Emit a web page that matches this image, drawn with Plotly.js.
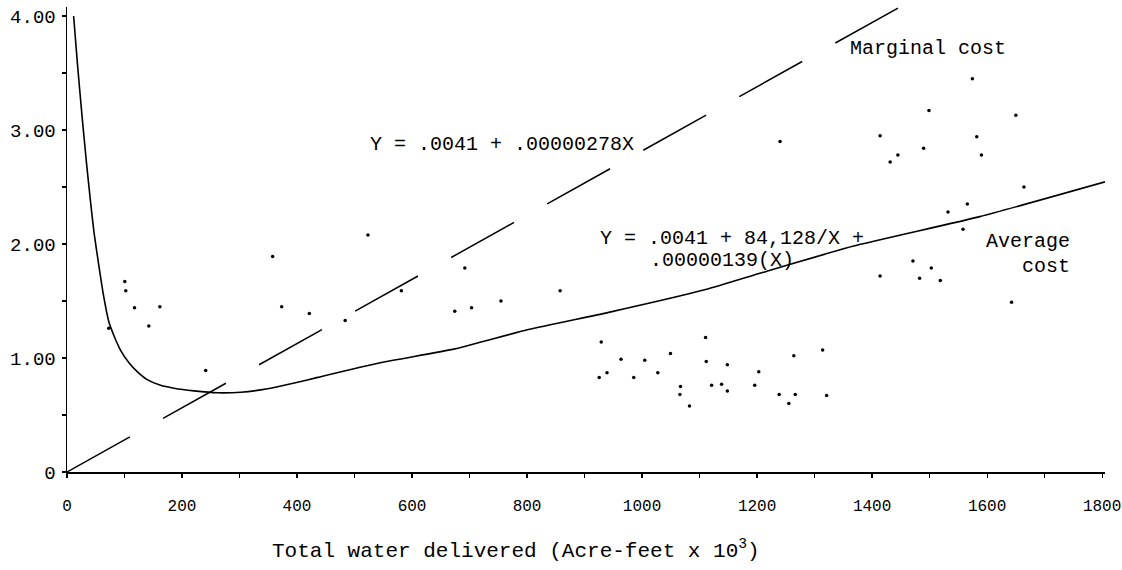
<!DOCTYPE html>
<html><head><meta charset="utf-8">
<script src="https://cdn.plot.ly/plotly-3.0.1.min.js"></script>
<style>html,body{margin:0;padding:0;background:#fff}</style>
</head><body><div id="chart" style="width:1122px;height:570px"></div>
<script>
const obsX = [72.6,100.5,102.2,117.4,161.5,142.3,241.2,357.6,373.3,421.4,483.7,523.3,581.4,691.8,674.3,703.5,754.6,857.5,
  929,925.5,939,963.4,985.5,1004.7,1027.4,1049.4,1066.8,1065.8,1082.5,1110.4,1111.6,1120.9,1138.3,1148.3,1148.3,1195.9,
  1202.9,1238.4,1255.2,1263.9,1266.4,1314,1320.9,1240,1574.4,1498.9,1650,1413.9,1582,1489.6,1444.8,1431.4,1590.1,1664,
  1565.6,1532,1558.1,1471,1413.9,1502.9,1482.6,1518.6,1642.5];
const obsY = [1.26,1.67,1.59,1.44,1.45,1.28,0.89,1.89,1.45,1.39,1.33,2.08,1.59,1.79,1.41,1.44,1.50,1.59,
  1.14,0.83,0.87,0.99,0.83,0.98,0.87,1.04,0.75,0.68,0.58,1.18,0.97,0.76,0.77,0.94,0.71,0.76,
  0.88,0.68,0.60,1.02,0.68,1.07,0.67,2.90,3.45,3.17,3.13,2.95,2.94,2.84,2.78,2.72,2.78,2.50,
  2.35,2.28,2.13,1.85,1.72,1.79,1.70,1.68,1.49];
// Average cost curve
const avgX = [11.5,18.5,26.2,33.7,40.7,47,55.1,63.8,72.6,81.3,93,107.4,122.1,139.5,162.7,185.9,220.8,261.6,302.3,348.9,
  395.3,436.1,546.5,674.3,802.4,941.9,1110.4,1209.3,1366.3,1587.3,1805];
const avgY = [4.00,3.56,3.12,2.72,2.38,2.10,1.82,1.54,1.32,1.20,1.07,0.96,0.88,0.81,0.76,0.735,0.712,0.695,0.70,0.73,
  0.78,0.83,0.96,1.08,1.25,1.40,1.60,1.75,1.98,2.24,2.545];
// Marginal cost line
const mcX = [0, 1445];
const mcY = [0, 4.07];
// Tick labels
const xTickVals = [0,200,400,600,800,1000,1200,1400,1600,1800];
const xTickText = ['0','200','400','600','800','1000','1200','1400','1600','1800'];
const yTickVals = [0,1,2,3,4];
const yTickText = ['0','1.00','2.00','3.00','4.00'];

const mono = 'Liberation Mono, Courier New, monospace';

const traces = [
  {x: mcX, y: mcY, mode: 'lines', line: {color: '#000', width: 1.5, dash: '72px,38px'}, hoverinfo: 'skip'},
  {x: avgX, y: avgY, mode: 'lines', line: {color: '#000', width: 1.6, shape: 'spline', smoothing: 0.5}, hoverinfo: 'skip'},
  {x: obsX, y: obsY, mode: 'markers', marker: {color: '#000', size: 3.5}, hoverinfo: 'skip'}
];

const ann = (text, x, y, xanchor, extra) => Object.assign({text, x, y, xref: 'x', yref: 'y', xanchor, yanchor: 'middle',
  showarrow: false, borderpad: 0, font: {family: mono, size: 20, color: '#000'}}, extra || {});

const layout = {
  width: 1122, height: 570,
  margin: {l: 67, r: 17, t: 7, b: 98},
  paper_bgcolor: '#fff', plot_bgcolor: '#fff',
  showlegend: false,
  xaxis: {range: [0, 1805], showgrid: false, zeroline: false, showline: true, linecolor: '#000', linewidth: 1.5,
    tickmode: 'array', tickvals: xTickVals, ticktext: xTickText, ticks: 'outside', ticklen: 4, tickwidth: 1.2, tickcolor: '#000',
    minor: {dtick: 100, ticks: 'outside', ticklen: 4, tickwidth: 1.2, tickcolor: '#000'},
    ticklabelstandoff: 14,
    tickfont: {family: mono, size: 16, color: '#000'}},
  yaxis: {range: [0, 4.079], showgrid: false, zeroline: false, showline: true, linecolor: '#000', linewidth: 1.5,
    tickmode: 'array', tickvals: yTickVals, ticktext: yTickText, ticks: 'outside', ticklen: 4, tickwidth: 1.2, tickcolor: '#000',
    minor: {dtick: 0.5, ticks: 'outside', ticklen: 4, tickwidth: 1.2, tickcolor: '#000'},
    ticklabelstandoff: 2,
    tickfont: {family: mono, size: 19, color: '#000'}},
  annotations: [
    ann('Y = .0041 + .00000278X', 525, 2.873, 'left'),
    ann('Marginal cost', 1360, 3.715, 'left'),
    ann('Y = .0041 + 84,128/X +', 925, 2.045, 'left', {height: 21}),
    ann('.00000139(X)', 1012, 1.855, 'left', {height: 21}),
    ann('Average', 1745, 2.02, 'right'),
    ann('cost', 1745, 1.80, 'right'),
    {text: 'Total water delivered (Acre-feet x 10<sup>3</sup>)', xref: 'paper', yref: 'paper', x: 0.433, y: -0.167,
      xanchor: 'center', yanchor: 'middle', showarrow: false, font: {family: mono, size: 21, color: '#000'}}
  ]
};

Plotly.newPlot('chart', traces, layout, {displayModeBar: false, staticPlot: true});
</script></body></html>
